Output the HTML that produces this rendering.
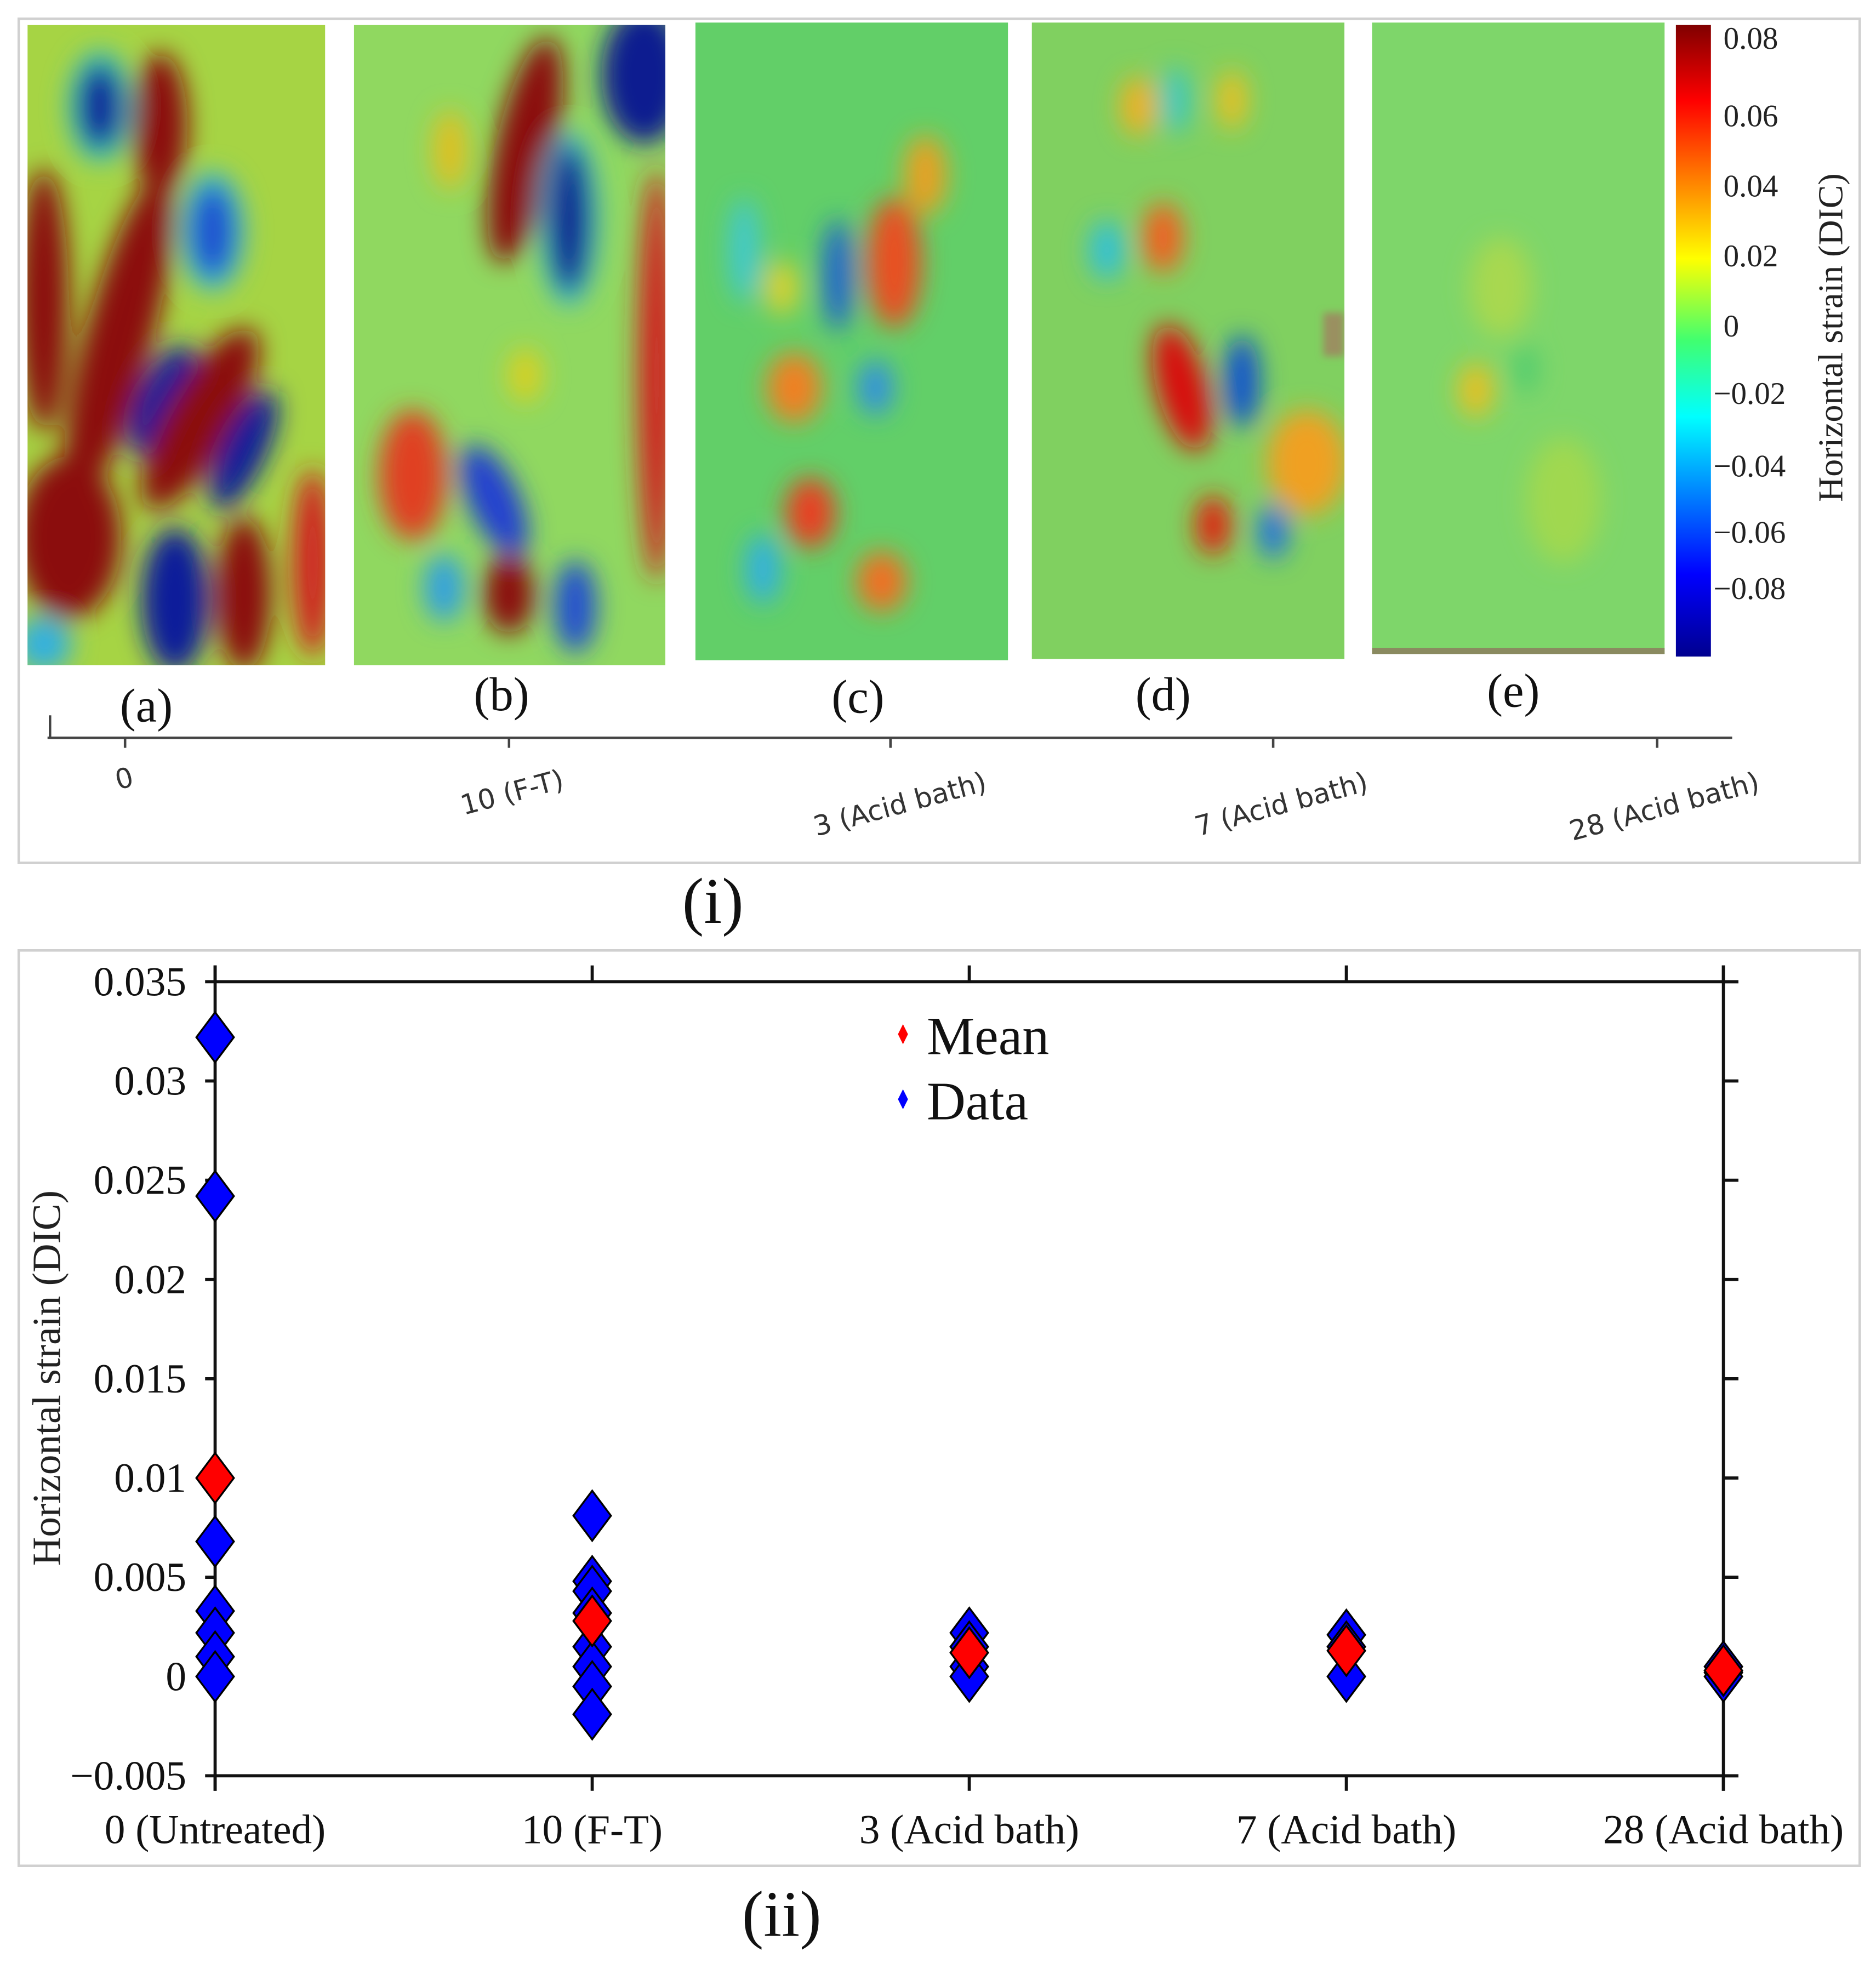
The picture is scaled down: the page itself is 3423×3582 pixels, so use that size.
<!DOCTYPE html>
<html><head><meta charset="utf-8"><style>
html,body{margin:0;padding:0;background:#fff}
svg{display:block}
.serif{font-family:"Liberation Serif",serif}
.sans{font-family:"DejaVu Sans","Liberation Sans",sans-serif}
</style></head><body>
<svg id="fig" width="3423" height="3582" viewBox="0 0 1500 1569.7" preserveAspectRatio="none" xmlns="http://www.w3.org/2000/svg">
<defs>
<filter id="bl" x="-50%" y="-50%" width="200%" height="200%"><feGaussianBlur stdDeviation="10"/></filter>
<filter id="bl2" x="-50%" y="-50%" width="200%" height="200%"><feGaussianBlur stdDeviation="3"/></filter>
<clipPath id="ca"><rect x="22" y="20" width="238" height="512"/></clipPath>
<clipPath id="cb"><rect x="283" y="20" width="249" height="512"/></clipPath>
<clipPath id="cc"><rect x="556" y="18" width="250" height="510"/></clipPath>
<clipPath id="cd"><rect x="825" y="18" width="250" height="509"/></clipPath>
<clipPath id="ce"><rect x="1097" y="18" width="234" height="505"/></clipPath>
<linearGradient id="jet" x1="0" y1="0" x2="0" y2="1">
<stop offset="0" stop-color="#800000"/><stop offset="0.12" stop-color="#ff0000"/><stop offset="0.37" stop-color="#ffff00"/><stop offset="0.5" stop-color="#40ff70"/><stop offset="0.62" stop-color="#00ffff"/><stop offset="0.87" stop-color="#0000ff"/><stop offset="1" stop-color="#00008f"/>
</linearGradient>
</defs>

<rect x="15" y="15" width="1472" height="675" fill="none" stroke="#d0d0d0" stroke-width="2"/>

<g clip-path="url(#ca)">
<rect x="22" y="20" width="238" height="512" fill="#a6d444"/>
<g filter="url(#bl)">
<ellipse cx="80" cy="85" rx="26" ry="45" fill="#40c8c0"/>
<ellipse cx="80" cy="85" rx="18" ry="35" fill="#0a1a9a"/>
<ellipse cx="128" cy="100" rx="22" ry="58" fill="#8b0a0a"/>
<ellipse cx="95" cy="270" rx="27" ry="135" fill="#8b0a0a" transform="rotate(15 95 270)"/>
<ellipse cx="35" cy="240" rx="20" ry="105" fill="#8b0a0a"/>
<ellipse cx="170" cy="185" rx="26" ry="48" fill="#40c0d0"/>
<ellipse cx="170" cy="185" rx="18" ry="38" fill="#1e50d0"/>
<ellipse cx="130" cy="320" rx="20" ry="48" fill="#0a1a9a" transform="rotate(25 130 320)"/>
<ellipse cx="160" cy="335" rx="27" ry="82" fill="#8b0a0a" transform="rotate(30 160 335)"/>
<ellipse cx="195" cy="360" rx="18" ry="52" fill="#0a1a9a" transform="rotate(25 195 360)"/>
<ellipse cx="55" cy="430" rx="42" ry="65" fill="#8b0a0a"/>
<ellipse cx="140" cy="480" rx="27" ry="58" fill="#0a1a9a"/>
<ellipse cx="195" cy="475" rx="22" ry="62" fill="#8b0a0a"/>
<ellipse cx="250" cy="450" rx="16" ry="75" fill="#d02020"/>
<ellipse cx="35" cy="515" rx="22" ry="22" fill="#30b0e0"/>
</g></g>

<g clip-path="url(#cb)">
<rect x="283" y="20" width="249" height="512" fill="#90d860"/>
<g filter="url(#bl)">
<ellipse cx="420" cy="120" rx="24" ry="92" fill="#8b1010" transform="rotate(12 420 120)"/>
<ellipse cx="455" cy="175" rx="24" ry="70" fill="#40c0d0"/>
<ellipse cx="455" cy="175" rx="17" ry="60" fill="#101a90"/>
<ellipse cx="515" cy="60" rx="34" ry="55" fill="#101a90"/>
<ellipse cx="525" cy="300" rx="15" ry="165" fill="#d02020"/>
<ellipse cx="330" cy="380" rx="27" ry="52" fill="#e04020"/>
<ellipse cx="395" cy="400" rx="20" ry="48" fill="#2040d0" transform="rotate(-25 395 400)"/>
<ellipse cx="407" cy="475" rx="20" ry="32" fill="#8b1010"/>
<ellipse cx="355" cy="470" rx="16" ry="27" fill="#30a0e0"/>
<ellipse cx="460" cy="485" rx="17" ry="37" fill="#2050d0"/>
<ellipse cx="360" cy="120" rx="14" ry="32" fill="#e0c020"/>
<ellipse cx="420" cy="300" rx="14" ry="22" fill="#d8d020"/>
</g></g>

<g clip-path="url(#cc)">
<rect x="556" y="18" width="250" height="510" fill="#62cf68"/>
<g filter="url(#bl)">
<ellipse cx="715" cy="210" rx="22" ry="52" fill="#e85020"/>
<ellipse cx="740" cy="140" rx="17" ry="32" fill="#e8a020"/>
<ellipse cx="670" cy="220" rx="12" ry="45" fill="#2060d0"/>
<ellipse cx="635" cy="310" rx="22" ry="28" fill="#f08020"/>
<ellipse cx="700" cy="310" rx="14" ry="22" fill="#3090e0"/>
<ellipse cx="648" cy="410" rx="20" ry="28" fill="#e84020"/>
<ellipse cx="705" cy="465" rx="20" ry="24" fill="#f07020"/>
<ellipse cx="610" cy="455" rx="14" ry="28" fill="#30b0e0"/>
<ellipse cx="595" cy="200" rx="12" ry="42" fill="#40c8d0"/>
<ellipse cx="625" cy="230" rx="14" ry="22" fill="#d8d030"/>
</g></g>

<g clip-path="url(#cd)">
<rect x="825" y="18" width="250" height="509" fill="#80d060"/>
<g filter="url(#bl)">
<ellipse cx="945" cy="310" rx="20" ry="52" fill="#d81010" transform="rotate(-15 945 310)"/>
<ellipse cx="930" cy="190" rx="16" ry="28" fill="#f06020"/>
<ellipse cx="993" cy="305" rx="14" ry="37" fill="#1050d0"/>
<ellipse cx="1045" cy="370" rx="32" ry="42" fill="#f0a020"/>
<ellipse cx="970" cy="420" rx="14" ry="24" fill="#e02010"/>
<ellipse cx="1018" cy="425" rx="12" ry="22" fill="#2070e0"/>
<ellipse cx="885" cy="200" rx="14" ry="24" fill="#30c0d8"/>
<ellipse cx="910" cy="85" rx="14" ry="24" fill="#f0b020"/>
<ellipse cx="985" cy="80" rx="12" ry="24" fill="#e8c020"/>
<ellipse cx="940" cy="80" rx="12" ry="27" fill="#40c8c0"/>
</g>
<rect x="1058" y="250" width="17" height="35" fill="#9a9060" filter="url(#bl2)"/>
</g>

<g clip-path="url(#ce)">
<rect x="1097" y="18" width="234" height="505" fill="#7ed66a"/>
<g filter="url(#bl)">
<ellipse cx="1180" cy="312" rx="14" ry="22" fill="#e8c020"/>
<ellipse cx="1200" cy="230" rx="25" ry="40" fill="#a8d850"/>
<ellipse cx="1250" cy="400" rx="30" ry="50" fill="#a0d850"/>
<ellipse cx="1220" cy="295" rx="10" ry="20" fill="#50cc70"/>
</g>
<rect x="1097" y="518" width="234" height="5" fill="#8a8a60"/>
</g>

<rect x="1340" y="20" width="28" height="505" fill="url(#jet)"/>
<g class="serif" font-size="25" fill="#222">
<text x="1378" y="39">0.08</text><text x="1378" y="101">0.06</text><text x="1378" y="157">0.04</text><text x="1378" y="213">0.02</text><text x="1378" y="269">0</text><text x="1370" y="323">−0.02</text><text x="1370" y="381">−0.04</text><text x="1370" y="434">−0.06</text><text x="1370" y="479">−0.08</text>
</g>
<text class="serif" font-size="28" fill="#222" text-anchor="middle" transform="translate(1473 270) rotate(-90)">Horizontal strain (DIC)</text>

<g class="serif" font-size="38" fill="#111" text-anchor="middle">
<text x="117" y="577">(a)</text><text x="401" y="568">(b)</text><text x="686" y="570">(c)</text><text x="930" y="568">(d)</text><text x="1210" y="565">(e)</text>
</g>
<g stroke="#444" stroke-width="2">
<line x1="38" y1="590" x2="1385" y2="590"/><line x1="40" y1="572" x2="40" y2="590"/>
<line x1="100" y1="590" x2="100" y2="598"/><line x1="407" y1="590" x2="407" y2="598"/><line x1="712" y1="590" x2="712" y2="598"/><line x1="1018" y1="590" x2="1018" y2="598"/><line x1="1325" y1="590" x2="1325" y2="598"/>
</g>
<g class="sans" font-size="22" fill="#333" text-anchor="end">
<text transform="translate(108 628) rotate(-15)">0</text>
<text transform="translate(452 630) rotate(-15)">10 (F-T)</text>
<text transform="translate(790 632) rotate(-15)">3 (Acid bath)</text>
<text transform="translate(1095 632) rotate(-15)">7 (Acid bath)</text>
<text transform="translate(1408 632) rotate(-15)">28 (Acid bath)</text>
</g>
<text class="serif" font-size="52" x="570" y="738" text-anchor="middle" fill="#111">(i)</text>

<rect x="15" y="760" width="1472" height="732" fill="none" stroke="#d0d0d0" stroke-width="2"/>
<g id="chart"></g>
<text class="serif" font-size="52" x="625" y="1548" text-anchor="middle" fill="#111">(ii)</text>
</svg>
<script>
const categories = ["0 (Untreated)", "10 (F-T)", "3 (Acid bath)", "7 (Acid bath)", "28 (Acid bath)"];
const dataValues = [
  [0.0322, 0.0242, 0.0068, 0.0033, 0.0022, 0.0010, 0.0],
  [0.0081, 0.0048, 0.0043, 0.0032, 0.0015, 0.0005, -0.0005, -0.0019],
  [0.0022, 0.0015, 0.0005, 0.0],
  [0.0021, 0.0015, 0.0],
  [0.0005, 0.0002, 0.0]
];
const meanValues = [0.0100, 0.0028, 0.0012, 0.0013, 0.0003];
const yTicks = [-0.005, 0, 0.005, 0.01, 0.015, 0.02, 0.025, 0.03, 0.035];
const yTickLabels = ["\u22120.005", "0", "0.005", "0.01", "0.015", "0.02", "0.025", "0.03", "0.035"];

const NS = "http://www.w3.org/2000/svg";
const g = document.getElementById("chart");
const L = 172, R = 1378, RE = 1390, T = 785, B = 1420, yMin = -0.005, yMax = 0.035;
function xs(i) { return L + i * (R - L) / (categories.length - 1); }
function ys(v) { return B - (v - yMin) / (yMax - yMin) * (B - T); }
function mk(tag, attrs, parent) {
  const e = document.createElementNS(NS, tag);
  for (const k in attrs) e.setAttribute(k, attrs[k]);
  (parent || g).appendChild(e);
  return e;
}
const axis = mk("g", {stroke: "#111", "stroke-width": 2.5});


mk("line", {x1: L, y1: T, x2: RE, y2: T}, axis);
mk("line", {x1: L, y1: B, x2: RE, y2: B}, axis);
mk("line", {x1: L, y1: T - 13, x2: L, y2: B + 12}, axis);
mk("line", {x1: R, y1: T - 13, x2: R, y2: B + 12}, axis);
categories.forEach((c, i) => {
  const x = xs(i);
  mk("line", {x1: x, y1: T - 13, x2: x, y2: T}, axis);
  mk("line", {x1: x, y1: B, x2: x, y2: B + 12}, axis);
  const t = mk("text", {x: x, y: 1474, "text-anchor": "middle", "font-size": 33, "font-family": "Liberation Serif, serif", fill: "#111"});
  t.textContent = c;
  
  
});
yTicks.forEach((v, i) => {
  const y = ys(v);
  mk("line", {x1: L - 8, y1: y, x2: L, y2: y}, axis);
  mk("line", {x1: R, y1: y, x2: RE, y2: y}, axis);
  const t = mk("text", {x: 149, y: y + 11, "text-anchor": "end", "font-size": 33, "font-family": "Liberation Serif, serif", fill: "#111"});
  t.textContent = yTickLabels[i];
  
  
});
const yt = mk("text", {transform: "translate(48 1102) rotate(-90)", "text-anchor": "middle", "font-size": 32, "font-family": "Liberation Serif, serif", fill: "#222"});
yt.textContent = "Horizontal strain (DIC)";



function diamond(x, y, hw, hh, fill, sw) {
  return mk("polygon", {points: `${x},${y-hh} ${x+hw},${y} ${x},${y+hh} ${x-hw},${y}`, fill: fill, stroke: "#000", "stroke-width": sw});
}
dataValues.forEach((arr, i) => {
  arr.forEach(v => {
    const d = diamond(xs(i), ys(v), 15, 20, "#0000ff", 1.5);
    
    
  });
});
meanValues.forEach((v, i) => {
  const d = diamond(xs(i), ys(v), 15, 20, "#ff0000", 1.5);
  
  
});
const lg = mk("g", {});


const m1 = diamond(722, 827, 4, 8, "#ff0000", 0); lg.appendChild(m1);


const m2 = diamond(722, 879, 4, 8, "#0000ff", 0); lg.appendChild(m2);


const t1 = mk("text", {x: 741, y: 843, "font-size": 43, "font-family": "Liberation Serif, serif", fill: "#111"}, lg);
t1.textContent = "Mean";


const t2 = mk("text", {x: 741, y: 895, "font-size": 43, "font-family": "Liberation Serif, serif", fill: "#111"}, lg);
t2.textContent = "Data";


</script>
</body></html>
